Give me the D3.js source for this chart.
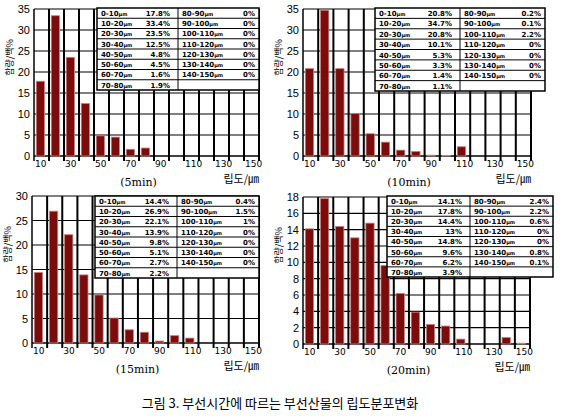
<!DOCTYPE html>
<html><head><meta charset="utf-8">
<script src="https://cdn.jsdelivr.net/npm/d3@7"></script>
<style>body{margin:0;background:#fff}svg{font-family:"DejaVu Sans",sans-serif}</style>
</head><body>
<svg id="c" width="561" height="417"></svg>
<script>
const bins = ["0-10","10-20","20-30","30-40","40-50","50-60","60-70","70-80","80-90","90-100","100-110","110-120","120-130","130-140","140-150"];
const tickLabels = ["10","30","50","70","90","110","130","150"];
const v5  = [17.8,33.4,23.5,12.5,4.8,4.5,1.6,1.9,0,0,0,0,0,0,0];
const v10 = [20.8,34.7,20.8,10.1,5.3,3.3,1.4,1.1,0.2,0.1,2.2,0,0,0,0];
const v15 = [14.4,26.9,22.1,13.9,9.8,5.1,2.7,2.2,0.4,1.5,1,0,0,0,0];
const v20 = [14.1,17.8,14.4,13,14.8,9.6,6.2,3.9,2.4,2.2,0.6,0,0,0.8,0.1];
const labels5 = ["17.8%","33.4%","23.5%","12.5%","4.8%","4.5%","1.6%","1.9%","0%","0%","0%","0%","0%","0%","0%"];
const labels10 = ["20.8%","34.7%","20.8%","10.1%","5.3%","3.3%","1.4%","1.1%","0.2%","0.1%","2.2%","0%","0%","0%","0%"];
const labels15 = ["14.4%","26.9%","22.1%","13.9%","9.8%","5.1%","2.7%","2.2%","0.4%","1.5%","1%","0%","0%","0%","0%"];
const labels20 = ["14.1%","17.8%","14.4%","13%","14.8%","9.6%","6.2%","3.9%","2.4%","2.2%","0.6%","0%","0%","0.8%","0.1%"];
const panels = [
 {vals:v5,lab:labels5,name:"(5min)",x0:34,x1:259,y0:156,y1:9,max:35,step:5,tb:[97,8,259,90]},
 {vals:v10,lab:labels10,name:"(10min)",x0:303,x1:531,y0:156,y1:9,max:35,step:5,tb:[375,8,545,91]},
 {vals:v15,lab:labels15,name:"(15min)",x0:32,x1:259,y0:343,y1:196,max:30,step:5,tb:[95,196,259,278]},
 {vals:v20,lab:labels20,name:"(20min)",x0:303,x1:530,y0:344,y1:197,max:18,step:2,tb:[387,196,553,277]}
];
const svg=d3.select("#c");
panels.forEach(p=>{
 const g=svg.append("g");
 const x=d3.scaleBand().domain(bins).range([p.x0,p.x1]);
 const y=d3.scaleLinear().domain([0,p.max]).range([p.y0,p.y1]);
 const ticks=d3.range(0,p.max+0.001,p.step);
 ticks.forEach(t=>g.append("line").attr("x1",p.x0).attr("x2",p.x1).attr("y1",y(t)).attr("y2",y(t)).attr("stroke","#000").attr("stroke-width",t===0?1.5:1.2));
 bins.forEach((b,i)=>g.append("line").attr("x1",x(b)+x.bandwidth()).attr("x2",x(b)+x.bandwidth()).attr("y1",p.y1).attr("y2",p.y0+5).attr("stroke","#000").attr("stroke-width",2));
 g.append("line").attr("x1",p.x0).attr("x2",p.x0).attr("y1",p.y1).attr("y2",p.y0+5).attr("stroke","#000").attr("stroke-width",1.5);
 g.selectAll("rect.b").data(p.vals).join("rect").attr("x",(d,i)=>x(bins[i])+x.bandwidth()*0.15)
  .attr("width",x.bandwidth()*0.55).attr("y",d=>y(d)).attr("height",d=>p.y0-y(d))
  .attr("fill","#7a0c0c").attr("stroke","#c98080").attr("stroke-width",0.8);
 const ax=g.append("g").attr("transform",`translate(${p.x0-3},0)`).call(d3.axisLeft(y).tickValues(ticks).tickSize(0).tickPadding(1));
 ax.select(".domain").remove();
 ax.selectAll("text").attr("font-size",11).attr("fill","#000");
 tickLabels.forEach((t,k)=>{
  const i=k*2;
  g.append("text").attr("x",x(bins[i])+1).attr("y",p.y0+11).attr("font-size",9).text(t);
 });
 const [tx0,ty0,tx1,ty1]=p.tb, rh=(ty1-ty0)/8, mid=tx0+(tx1-tx0)*0.5;
 g.append("rect").attr("x",tx0).attr("y",ty0).attr("width",tx1-tx0).attr("height",ty1-ty0).attr("fill","#fff").attr("stroke","#000").attr("stroke-width",1.5);
 g.append("line").attr("x1",mid).attr("x2",mid).attr("y1",ty0).attr("y2",ty1).attr("stroke","#000");
 for(let r=1;r<8;r++) g.append("line").attr("x1",tx0).attr("x2",tx1).attr("y1",ty0+r*rh).attr("y2",ty0+r*rh).attr("stroke","#000");
 bins.forEach((b,i)=>{
  const col=i<8?0:1, r=i<8?i:i-8, cx=col?mid+4:tx0+4, cy=ty0+r*rh+rh*0.78;
  const t=g.append("text").attr("x",cx).attr("y",cy).attr("font-size",7).attr("font-weight","bold");
  t.append("tspan").text(b);
  t.append("tspan").attr("font-size",5).text("μm");
  g.append("text").attr("x",col?tx1-4:mid-8).attr("y",cy).attr("text-anchor","end").attr("font-size",7).attr("font-weight","bold").text(p.lab[i]);
 });
 g.append("text").attr("x",(p.x0+p.x1)/2-8).attr("y",p.y0+30).attr("text-anchor","middle").attr("font-size",11).attr("font-family","DejaVu Serif").text(p.name);
 g.append("text").attr("x",p.x1).attr("y",p.y0+27).attr("text-anchor","end").attr("font-size",11).attr("font-family","Noto Sans CJK KR").text("립도/㎛");
 g.append("text").attr("transform",`translate(${p.x0-21},${(p.y0+p.y1)/2-25}) rotate(-90)`).attr("text-anchor","middle").attr("font-size",9).attr("font-family","Noto Sans CJK KR").text("함량/백%");
});
svg.append("text").attr("x",280).attr("y",408).attr("text-anchor","middle").attr("font-size",13).attr("font-family","Noto Sans CJK KR").text("그림 3. 부선시간에 따르는 부선산물의 립도분포변화");
</script>
</body></html>
